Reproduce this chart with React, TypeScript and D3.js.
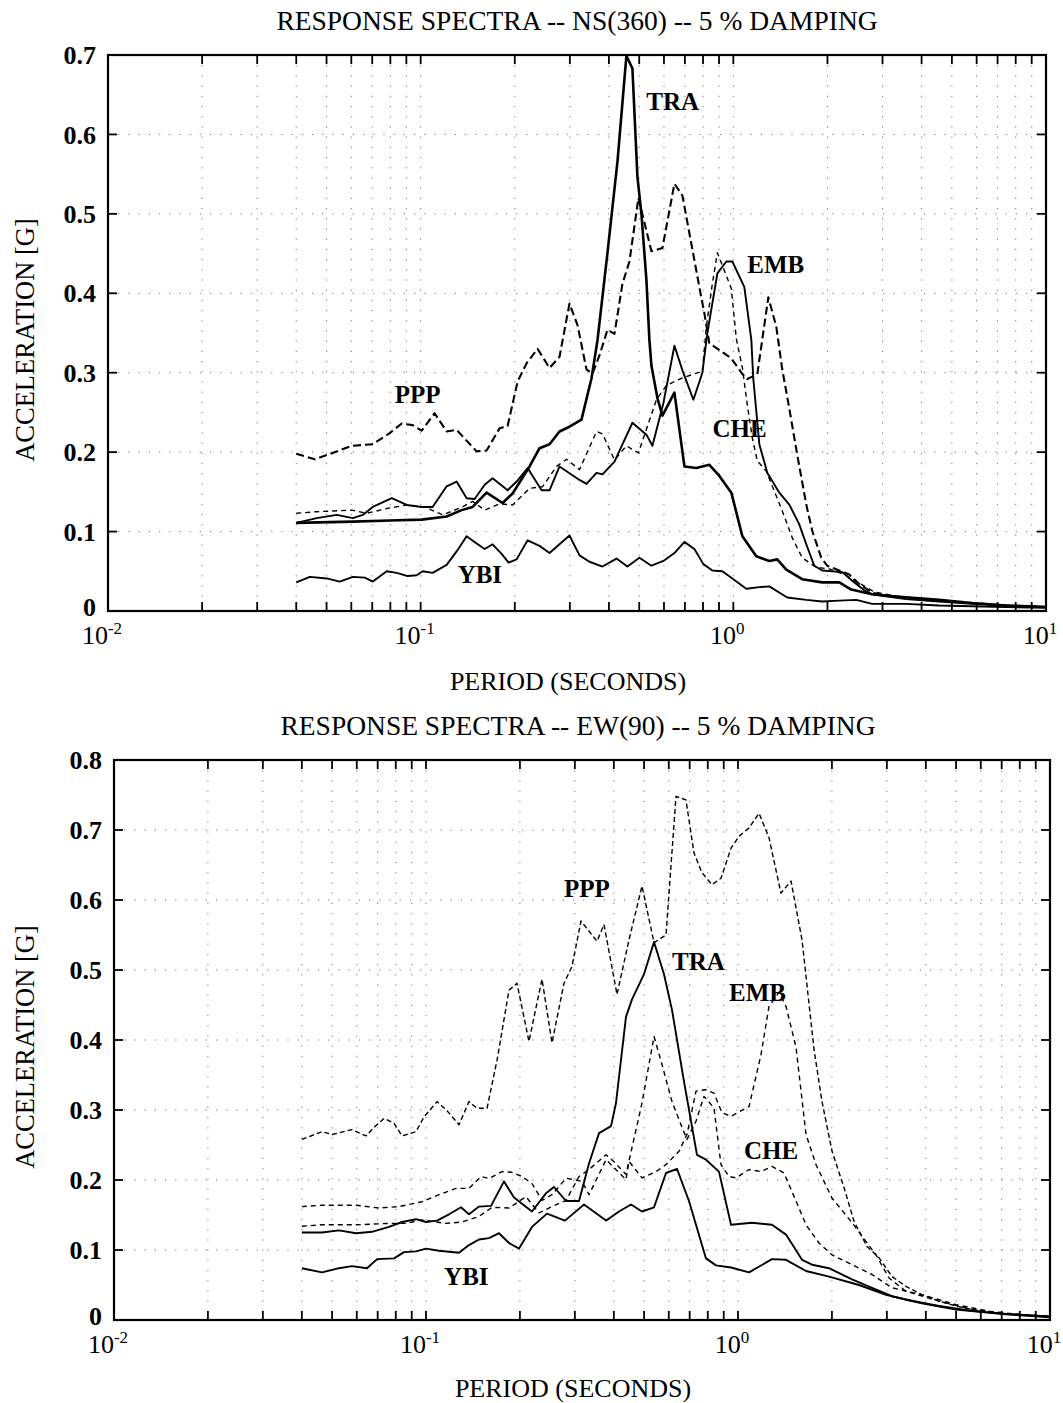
import React from "react";
import * as d3 from "d3";

type Pt = [number, number]; // [period (s), spectral acceleration (g)]

// ---------- NS(360) component ----------
const nsPPP: Pt[] = [
  [0.04, 0.198], [0.0459, 0.191], [0.0523, 0.199], [0.0602, 0.208], [0.0703, 0.21], [0.0796, 0.224],
  [0.087, 0.236], [0.0943, 0.234], [0.1007, 0.227], [0.1108, 0.249], [0.1211, 0.226], [0.1303, 0.228],
  [0.151, 0.201], [0.1625, 0.202], [0.1788, 0.23], [0.1897, 0.233], [0.2042, 0.289], [0.2182, 0.312],
  [0.2365, 0.33], [0.2583, 0.306], [0.278, 0.32], [0.2992, 0.387], [0.3174, 0.36], [0.3392, 0.304],
  [0.3545, 0.299], [0.3733, 0.322], [0.3958, 0.354], [0.4168, 0.349], [0.4419, 0.412], [0.4653, 0.44],
  [0.4971, 0.52], [0.5196, 0.489], [0.547, 0.453], [0.5932, 0.457], [0.648, 0.538], [0.6873, 0.523],
  [0.7343, 0.462], [0.7905, 0.394], [0.8079, 0.375], [0.8382, 0.337], [0.9158, 0.327], [0.9854, 0.318],
  [1.061, 0.3], [1.108, 0.292], [1.193, 0.298], [1.294, 0.395], [1.372, 0.358], [1.434, 0.304],
  [1.51, 0.255], [1.602, 0.196], [1.711, 0.134], [1.788, 0.101], [1.911, 0.067], [1.996, 0.057],
  [2.182, 0.051], [2.348, 0.046], [2.527, 0.034], [2.78, 0.023], [3.151, 0.019], [3.57, 0.017],
  [4.55, 0.013], [5.8, 0.01], [7.45, 0.007], [10, 0.005],
];

const nsCHE: Pt[] = [
  [0.04, 0.123], [0.0465, 0.125], [0.0602, 0.127], [0.0672, 0.123], [0.0779, 0.129], [0.0902, 0.1335],
  [0.103, 0.131], [0.1176, 0.121], [0.1352, 0.1305], [0.1466, 0.138], [0.1602, 0.127], [0.1788, 0.135],
  [0.1968, 0.1335], [0.223, 0.1545], [0.2454, 0.1565], [0.272, 0.182], [0.2928, 0.191], [0.3221, 0.178],
  [0.3651, 0.226], [0.3816, 0.223], [0.4168, 0.19], [0.455, 0.208], [0.4971, 0.199], [0.5675, 0.266],
  [0.6109, 0.284], [0.6823, 0.293], [0.7962, 0.302], [0.8199, 0.358], [0.8569, 0.412], [0.8892, 0.451],
  [0.9854, 0.406], [1.022, 0.343], [1.069, 0.306], [1.108, 0.26], [1.15, 0.218], [1.193, 0.189],
  [1.275, 0.176], [1.352, 0.151], [1.434, 0.126], [1.544, 0.092], [1.661, 0.067], [1.842, 0.055],
  [2.026, 0.053], [2.263, 0.046], [2.527, 0.035], [2.822, 0.024], [3.392, 0.018], [4.55, 0.013],
  [5.8, 0.01], [7.45, 0.007], [10, 0.005],
];

const nsTRA: Pt[] = [
  [0.04, 0.111], [0.0607, 0.1125], [0.0796, 0.114], [0.1007, 0.115], [0.1211, 0.119], [0.1352, 0.127],
  [0.1466, 0.131], [0.1625, 0.149], [0.1828, 0.136], [0.1968, 0.148], [0.223, 0.182], [0.24, 0.205],
  [0.2583, 0.21], [0.278, 0.226], [0.2992, 0.232], [0.3269, 0.241], [0.3519, 0.293], [0.3678, 0.341],
  [0.3958, 0.451], [0.4261, 0.566], [0.455, 0.699], [0.4756, 0.683], [0.4934, 0.547], [0.5082, 0.5],
  [0.5272, 0.417], [0.539, 0.341], [0.547, 0.309], [0.5718, 0.268], [0.5932, 0.246], [0.648, 0.275],
  [0.6975, 0.182], [0.7619, 0.18], [0.8382, 0.184], [0.9024, 0.17], [0.9854, 0.149], [1.069, 0.094],
  [1.184, 0.069], [1.303, 0.063], [1.382, 0.065], [1.477, 0.052], [1.661, 0.04], [1.924, 0.036],
  [2.182, 0.036], [2.382, 0.027], [2.78, 0.021], [3.392, 0.018], [4.55, 0.014], [5.8, 0.01],
  [7.45, 0.007], [10, 0.005],
];

const nsEMB: Pt[] = [
  [0.04, 0.111], [0.0465, 0.117], [0.0539, 0.121], [0.0607, 0.117], [0.0653, 0.121], [0.0703, 0.131],
  [0.0808, 0.142], [0.0902, 0.1335], [0.1007, 0.131], [0.1092, 0.131], [0.1211, 0.157], [0.1303, 0.163],
  [0.1403, 0.142], [0.1488, 0.141], [0.1602, 0.159], [0.1698, 0.167], [0.1897, 0.152], [0.2027, 0.163],
  [0.2198, 0.18], [0.2436, 0.152], [0.2583, 0.152], [0.278, 0.182], [0.3221, 0.165], [0.3392, 0.16],
  [0.3651, 0.174], [0.3816, 0.172], [0.4168, 0.188], [0.4756, 0.237], [0.5272, 0.222], [0.5511, 0.208],
  [0.5976, 0.262], [0.648, 0.334], [0.6873, 0.303], [0.7452, 0.266], [0.7962, 0.3], [0.8259, 0.35],
  [0.8892, 0.425], [0.9497, 0.44], [0.9926, 0.44], [1.084, 0.408], [1.142, 0.341], [1.158, 0.293],
  [1.211, 0.21], [1.284, 0.174], [1.403, 0.149], [1.51, 0.134], [1.625, 0.109], [1.711, 0.084],
  [1.815, 0.057], [1.924, 0.051], [2.23, 0.049], [2.4, 0.038], [2.622, 0.026], [2.78, 0.021],
  [3.151, 0.018], [3.57, 0.015], [4.55, 0.012], [5.8, 0.009], [7.45, 0.007], [10, 0.005],
];

const nsYBI: Pt[] = [
  [0.04, 0.036], [0.0442, 0.043], [0.0501, 0.041], [0.0551, 0.037], [0.0607, 0.043], [0.0663, 0.042],
  [0.0703, 0.037], [0.0779, 0.05], [0.0838, 0.048], [0.0909, 0.044], [0.0971, 0.045], [0.1015, 0.05],
  [0.1092, 0.048], [0.1211, 0.058], [0.1303, 0.075], [0.1403, 0.094], [0.151, 0.085], [0.1602, 0.078],
  [0.1698, 0.084], [0.1815, 0.072], [0.1911, 0.061], [0.2027, 0.065], [0.2198, 0.089], [0.24, 0.082],
  [0.2583, 0.073], [0.2992, 0.095], [0.3221, 0.07], [0.3467, 0.062], [0.3816, 0.056], [0.4229, 0.066],
  [0.4584, 0.056], [0.5008, 0.067], [0.547, 0.057], [0.5976, 0.063], [0.648, 0.073], [0.6975, 0.087],
  [0.7507, 0.078], [0.802, 0.059], [0.8569, 0.051], [0.9224, 0.05], [0.9926, 0.041], [1.1, 0.028],
  [1.211, 0.03], [1.303, 0.031], [1.488, 0.017], [1.711, 0.014], [1.924, 0.012], [2.182, 0.013],
  [2.472, 0.014], [2.78, 0.009], [3.57, 0.009], [4.55, 0.007], [5.8, 0.006], [7.45, 0.005], [10, 0.004],
];

// ---------- EW(90) component ----------
const ewPPP: Pt[] = [
  [0.04, 0.258], [0.0464, 0.269], [0.05, 0.265], [0.0579, 0.272], [0.0642, 0.263], [0.0681, 0.275],
  [0.0734, 0.288], [0.079, 0.281], [0.0838, 0.263], [0.0929, 0.269], [0.0985, 0.29], [0.1085, 0.312],
  [0.1168, 0.299], [0.1276, 0.279], [0.1373, 0.312], [0.1457, 0.3025], [0.1569, 0.3025], [0.1689, 0.371],
  [0.1845, 0.471], [0.1957, 0.481], [0.2138, 0.398], [0.2354, 0.487], [0.2534, 0.396], [0.2769, 0.481],
  [0.2937, 0.505], [0.3139, 0.57], [0.3533, 0.541], [0.372, 0.565], [0.4094, 0.465], [0.4473, 0.543],
  [0.4924, 0.62], [0.5381, 0.539], [0.5878, 0.55], [0.6328, 0.748], [0.6811, 0.743], [0.7227, 0.667],
  [0.7665, 0.639], [0.8252, 0.622], [0.8819, 0.631], [0.9497, 0.674], [1.007, 0.691], [1.085, 0.703],
  [1.168, 0.724], [1.257, 0.689], [1.373, 0.61], [1.479, 0.627], [1.604, 0.543], [1.753, 0.386],
  [1.859, 0.312], [2.002, 0.241], [2.187, 0.189], [2.354, 0.141], [2.592, 0.105], [2.831, 0.089],
  [3.116, 0.062], [3.456, 0.048], [3.888, 0.036], [4.408, 0.027], [4.996, 0.02], [5.623, 0.015],
  [7.228, 0.009], [10, 0.005],
];

const ewEMB: Pt[] = [
  [0.04, 0.162], [0.0464, 0.164], [0.0597, 0.164], [0.0707, 0.16], [0.082, 0.162], [0.0971, 0.169],
  [0.1101, 0.179], [0.1248, 0.188], [0.1373, 0.188], [0.1501, 0.205], [0.1592, 0.202], [0.1752, 0.212],
  [0.1886, 0.211], [0.2031, 0.205], [0.2186, 0.195], [0.2354, 0.171], [0.2534, 0.179], [0.2811, 0.2025],
  [0.2982, 0.2005], [0.3162, 0.198], [0.333, 0.179], [0.3776, 0.229], [0.4375, 0.2005], [0.4473, 0.2267],
  [0.4924, 0.203], [0.546, 0.212], [0.5878, 0.222], [0.6469, 0.241], [0.6862, 0.265], [0.7334, 0.327],
  [0.7895, 0.329], [0.8375, 0.324], [0.8885, 0.296], [0.9497, 0.291], [1.085, 0.305], [1.185, 0.379],
  [1.257, 0.448], [1.353, 0.468], [1.425, 0.448], [1.534, 0.39], [1.652, 0.265], [1.778, 0.222],
  [2.002, 0.174], [2.302, 0.141], [2.769, 0.093], [3.048, 0.06], [3.456, 0.041], [4.408, 0.027],
  [5.623, 0.015], [7.228, 0.009], [10, 0.005],
];

const ewCHE: Pt[] = [
  [0.04, 0.134], [0.0464, 0.136], [0.0597, 0.136], [0.0761, 0.138], [0.0863, 0.138], [0.0971, 0.143],
  [0.1159, 0.138], [0.1304, 0.14], [0.1479, 0.148], [0.1628, 0.161], [0.1845, 0.16], [0.2092, 0.176],
  [0.2302, 0.153], [0.2534, 0.162], [0.2811, 0.171], [0.3094, 0.205], [0.333, 0.215], [0.3776, 0.236],
  [0.4006, 0.226], [0.4375, 0.208], [0.4924, 0.31], [0.5381, 0.405], [0.5707, 0.365], [0.6144, 0.312],
  [0.6565, 0.279], [0.6862, 0.258], [0.7334, 0.284], [0.778, 0.3195], [0.8375, 0.303], [0.8819, 0.222],
  [0.9358, 0.205], [0.9854, 0.203], [1.085, 0.215], [1.185, 0.212], [1.285, 0.2195], [1.404, 0.21],
  [1.534, 0.17], [1.652, 0.136], [1.818, 0.11], [2.002, 0.093], [2.32, 0.079], [2.689, 0.065],
  [3.116, 0.046], [3.888, 0.036], [4.996, 0.022], [6.375, 0.0124], [8.136, 0.0076], [10, 0.005],
];

const ewTRA: Pt[] = [
  [0.04, 0.125], [0.0464, 0.125], [0.0526, 0.128], [0.0597, 0.124], [0.0671, 0.126], [0.0761, 0.133],
  [0.0838, 0.14], [0.0929, 0.144], [0.1, 0.14], [0.1085, 0.142], [0.1185, 0.151], [0.1295, 0.161],
  [0.1373, 0.151], [0.1479, 0.162], [0.1616, 0.163], [0.1778, 0.198], [0.1915, 0.175], [0.2186, 0.155],
  [0.2424, 0.181], [0.2572, 0.19], [0.2811, 0.17], [0.3094, 0.17], [0.333, 0.2235], [0.3586, 0.267],
  [0.3918, 0.277], [0.4064, 0.31], [0.4375, 0.433], [0.4574, 0.458], [0.4997, 0.494], [0.5381, 0.54],
  [0.5792, 0.494], [0.6144, 0.443], [0.6712, 0.341], [0.7388, 0.236], [0.7895, 0.229], [0.869, 0.212],
  [0.9497, 0.136], [1.109, 0.139], [1.285, 0.136], [1.425, 0.122], [1.604, 0.086], [1.727, 0.079],
  [1.958, 0.074], [2.32, 0.058], [2.689, 0.046], [3.116, 0.034], [3.888, 0.024], [4.996, 0.015],
  [7.228, 0.008], [10, 0.004],
];

const ewYBI: Pt[] = [
  [0.04, 0.074], [0.0464, 0.068], [0.0526, 0.074], [0.0579, 0.077], [0.0647, 0.074], [0.0697, 0.087],
  [0.079, 0.088], [0.085, 0.097], [0.0929, 0.098], [0.1, 0.102], [0.1101, 0.099], [0.1276, 0.096],
  [0.1373, 0.107], [0.1479, 0.115], [0.1592, 0.117], [0.1714, 0.124], [0.1845, 0.11], [0.1987, 0.102],
  [0.2186, 0.133], [0.2442, 0.152], [0.279, 0.142], [0.3209, 0.165], [0.3776, 0.142], [0.4155, 0.155],
  [0.454, 0.165], [0.4924, 0.155], [0.5381, 0.161], [0.5878, 0.21], [0.6375, 0.216], [0.6964, 0.17],
  [0.7895, 0.088], [0.85, 0.078], [0.9497, 0.075], [1.085, 0.068], [1.285, 0.087], [1.425, 0.086],
  [1.652, 0.07], [1.958, 0.062], [2.443, 0.05], [2.982, 0.036], [3.456, 0.029], [4.408, 0.02],
  [5.623, 0.013], [7.228, 0.0086], [10, 0.005],
];

const periodDomain: [number, number] = [0.01, 10];
const decadeTicks = [0.01, 0.1, 1, 10];
const decadeExponents = ["-2", "-1", "0", "1"];
const nsAccelTicks = [0, 0.1, 0.2, 0.3, 0.4, 0.5, 0.6, 0.7];
const ewAccelTicks = [0, 0.1, 0.2, 0.3, 0.4, 0.5, 0.6, 0.7, 0.8];

const FONT = '"Liberation Serif", "Times New Roman", Times, serif';

type LineStyle = { width: number; dash?: string };
const thickSolid: LineStyle = { width: 2.6 };
const solid: LineStyle = { width: 1.9 };
const boldDash: LineStyle = { width: 2.1, dash: "8 4" };
const thinDash: LineStyle = { width: 1.4, dash: "5 4" };

type Series = { name: string; data: Pt[]; style: LineStyle };
type StationLabel = { text: string; t: number; a: number };

type PanelCfg = {
  title: string;
  titleX: number;
  titleY: number;
  xLabelX: number;
  xLabelY: number;
  yLabelY: number;
  yMax: number;
  yTicks: number[];
  box: { left: number; right: number; top: number; bottom: number };
  series: Series[];
  labels: StationLabel[];
};

const panels: PanelCfg[] = [
  {
    title: "RESPONSE SPECTRA -- NS(360) -- 5 % DAMPING",
    titleX: 577,
    titleY: 30,
    xLabelX: 568,
    xLabelY: 690,
    yLabelY: 340,
    yMax: 0.7,
    yTicks: nsAccelTicks,
    box: { left: 108, right: 1046, top: 55, bottom: 611 },
    series: [
      { name: "YBI", data: nsYBI, style: solid },
      { name: "EMB", data: nsEMB, style: solid },
      { name: "CHE", data: nsCHE, style: thinDash },
      { name: "PPP", data: nsPPP, style: boldDash },
      { name: "TRA", data: nsTRA, style: thickSolid },
    ],
    labels: [
      { text: "TRA", t: 0.527, a: 0.631 },
      { text: "EMB", t: 1.108, a: 0.426 },
      { text: "PPP", t: 0.0826, a: 0.262 },
      { text: "CHE", t: 0.857, a: 0.219 },
      { text: "YBI", t: 0.1313, a: 0.035 },
    ],
  },
  {
    title: "RESPONSE SPECTRA -- EW(90) -- 5 % DAMPING",
    titleX: 578,
    titleY: 735,
    xLabelX: 573,
    xLabelY: 1397,
    yLabelY: 1047,
    yMax: 0.8,
    yTicks: ewAccelTicks,
    box: { left: 114, right: 1050, top: 760, bottom: 1320 },
    series: [
      { name: "YBI", data: ewYBI, style: solid },
      { name: "TRA", data: ewTRA, style: solid },
      { name: "CHE", data: ewCHE, style: thinDash },
      { name: "EMB", data: ewEMB, style: thinDash },
      { name: "PPP", data: ewPPP, style: { width: 1.4, dash: "5 3" } },
    ],
    labels: [
      { text: "PPP", t: 0.2769, a: 0.604 },
      { text: "TRA", t: 0.6144, a: 0.5 },
      { text: "EMB", t: 0.9358, a: 0.456 },
      { text: "CHE", t: 1.045, a: 0.23 },
      { text: "YBI", t: 0.1143, a: 0.05 },
    ],
  },
];

function Panel({ cfg }: { cfg: PanelCfg }) {
  const { box } = cfg;
  const x = d3.scaleLog().domain(periodDomain).range([box.left, box.right]);
  const y = d3.scaleLinear().domain([0, cfg.yMax]).range([box.bottom, box.top]);
  const line = d3
    .line<Pt>()
    .x((d) => x(d[0]))
    .y((d) => y(d[1]));
  const xTicks = x.ticks(); // 0.01, 0.02, ... 10
  const innerX = xTicks.filter((t) => t > periodDomain[0] * 1.0001 && t < periodDomain[1] * 0.9999);
  const innerY = cfg.yTicks.filter((t) => t > 0 && t < cfg.yMax);
  const tickLen = 9;

  return (
    <g>
      {/* sparse dotted grid */}
      <g stroke="#666" strokeWidth={0.9} strokeDasharray="1.2 9" fill="none">
        {innerX.map((t, i) => (
          <line key={"gx" + i} x1={x(t)} x2={x(t)} y1={box.top} y2={box.bottom} />
        ))}
        {innerY.map((t, i) => (
          <line key={"gy" + i} x1={box.left} x2={box.right} y1={y(t)} y2={y(t)} />
        ))}
      </g>

      {/* spectra */}
      <g fill="none" stroke="#000" strokeLinejoin="round">
        {cfg.series.map((s) => (
          <path
            key={s.name}
            d={line(s.data) || ""}
            strokeWidth={s.style.width}
            strokeDasharray={s.style.dash}
          />
        ))}
      </g>

      {/* frame and inward ticks */}
      <rect
        x={box.left}
        y={box.top}
        width={box.right - box.left}
        height={box.bottom - box.top}
        fill="none"
        stroke="#000"
        strokeWidth={2.2}
      />
      <g stroke="#000" strokeWidth={1.8}>
        {innerX.map((t, i) => (
          <g key={"tx" + i}>
            <line x1={x(t)} x2={x(t)} y1={box.bottom} y2={box.bottom - tickLen} />
            <line x1={x(t)} x2={x(t)} y1={box.top} y2={box.top + tickLen} />
          </g>
        ))}
        {innerY.map((t, i) => (
          <g key={"ty" + i}>
            <line x1={box.left} x2={box.left + tickLen} y1={y(t)} y2={y(t)} />
            <line x1={box.right} x2={box.right - tickLen} y1={y(t)} y2={y(t)} />
          </g>
        ))}
      </g>

      {/* y tick labels */}
      <g fontFamily={FONT} fontSize={26} fontWeight="bold" textAnchor="end" fill="#000">
        {cfg.yTicks.map((t, i) => (
          <text key={"yl" + i} x={box.left - 12} y={y(t) - (t === 0 ? 4 : 0)} dy="0.35em">
            {t === 0 ? "0" : d3.format(".1f")(t)}
          </text>
        ))}
      </g>

      {/* x tick labels: powers of ten */}
      <g fontFamily={FONT} fontSize={26} fill="#000" textAnchor="middle">
        {decadeTicks.map((t, i) => (
          <text key={"xl" + i} x={x(t) - 6} y={box.bottom + 33}>
            10
            <tspan fontSize={17} dy={-10}>
              {decadeExponents[i]}
            </tspan>
          </text>
        ))}
      </g>

      {/* station labels */}
      <g fontFamily={FONT} fontSize={25} fontWeight="bold" fill="#000">
        {cfg.labels.map((l) => (
          <text key={l.text} x={x(l.t)} y={y(l.a)}>
            {l.text}
          </text>
        ))}
      </g>

      {/* titles */}
      <text x={cfg.titleX} y={cfg.titleY} fontFamily={FONT} fontSize={27.5} textAnchor="middle" fill="#000">
        {cfg.title}
      </text>
      <text x={cfg.xLabelX} y={cfg.xLabelY} fontFamily={FONT} fontSize={26} textAnchor="middle" fill="#000">
        PERIOD (SECONDS)
      </text>
      <text
        transform={`translate(34,${cfg.yLabelY}) rotate(-90)`}
        fontFamily={FONT}
        fontSize={26.5}
        textAnchor="middle"
        fill="#000"
      >
        ACCELERATION [G]
      </text>
    </g>
  );
}

export default function App() {
  return (
    <div style={{ position: "absolute", left: 0, top: 0 }}>
      <svg width={1063} height={1403} viewBox="0 0 1063 1403" style={{ display: "block", background: "#fff" }}>
        <rect x={0} y={0} width={1063} height={1403} fill="#fff" />
        {panels.map((p, i) => (
          <Panel key={i} cfg={p} />
        ))}
      </svg>
    </div>
  );
}
